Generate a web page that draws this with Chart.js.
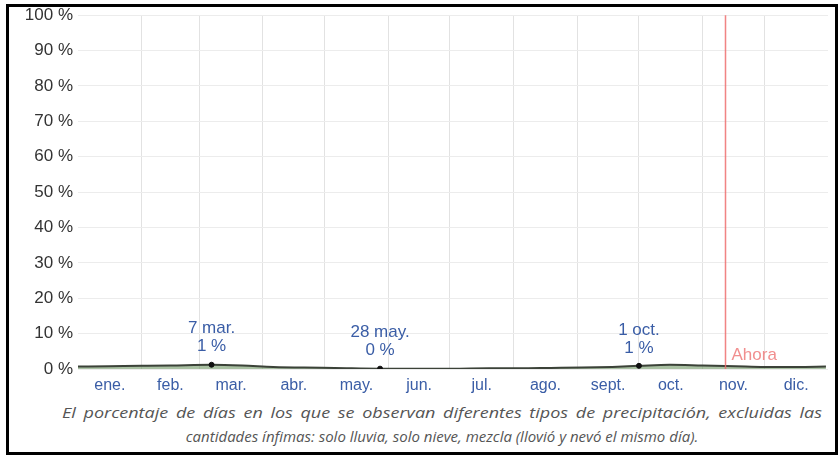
<!DOCTYPE html>
<html>
<head>
<meta charset="utf-8">
<script src="https://cdn.jsdelivr.net/npm/chart.js@4/dist/chart.umd.min.js"></script>
<style>
  html, body { margin: 0; padding: 0; background: #fff; }
  #frame { position: absolute; left: 6px; top: 4px; width: 826px; height: 445px; border: 3px solid #000; }
  #chart { position: absolute; left: 0; top: 0; }
  .cap {
    position: absolute; white-space: nowrap;
    font: italic 15px 'Open Sans', sans-serif; color: #555; line-height: 24px;
    transform-origin: 0 0;
  }
</style>
</head>
<body>
<div id="frame"></div>
<canvas id="chart" width="840" height="400"></canvas>
<span class="cap" id="cap1" style="top:400px">El porcentaje de días en los que se observan diferentes tipos de precipitación, excluidas las</span>
<span class="cap" id="cap2" style="top:424px">cantidades ínfimas: solo lluvia, solo nieve, mezcla (llovió y nevó el mismo día).</span>
<script>
// Day of year (0 = 1 Jan) and share of days with rain only, in percent
const days = [0, 15, 31, 45, 65, 80, 95, 110, 125, 147, 165, 182, 200, 215, 230, 245, 260, 273, 288, 304, 320, 334, 350, 364];
const rain = [0.7, 0.8, 0.9, 1.0, 1.2, 1.0, 0.6, 0.4, 0.3, 0.1, 0.1, 0.1, 0.2, 0.2, 0.3, 0.4, 0.6, 0.9, 1.2, 1.0, 0.8, 0.6, 0.6, 0.7];

// Month boundaries and month label positions (day of year)
const monthStarts = [31, 59, 90, 120, 151, 181, 212, 243, 273, 304, 334];
const monthMids = [15.5, 45, 74.5, 105, 135.5, 166, 196.5, 227.5, 258, 288.5, 319, 349.5];
const monthNames = ['ene.', 'feb.', 'mar.', 'abr.', 'may.', 'jun.', 'jul.', 'ago.', 'sept.', 'oct.', 'nov.', 'dic.'];

// Y ticks
const yTicks = [0, 10, 20, 30, 40, 50, 60, 70, 80, 90, 100];

// Highlighted days and their captions
const markDays = [65, 147, 273];
const markNames = ['7 mar.', '28 may.', '1 oct.'];

// Current day marker
const nowDay = 315;
const nowLabel = 'Ahora';

const series = days.map((d, i) => ({ x: d, y: rain[i] }));
const marks = markDays.map(d => ({ x: d, y: rain[days.indexOf(d)] }));

const blue = '#3a5da6';
const sans = "'Liberation Sans', Arial, sans-serif";

// Caption: first line justified across the box, last line centred
function layoutCaption() {
  const boxLeft = 62, boxRight = 822, mid = (boxLeft + boxRight) / 2, stretch = 1.2;
  const c1 = document.getElementById('cap1');
  const c2 = document.getElementById('cap2');
  c1.style.transform = 'none';
  c1.style.wordSpacing = '0px';
  const w1 = c1.getBoundingClientRect().width;
  const gaps = c1.textContent.split(' ').length - 1;
  c1.style.wordSpacing = Math.max(0, ((boxRight - boxLeft) / stretch - w1) / gaps) + 'px';
  c1.style.left = boxLeft + 'px';
  c1.style.transform = 'scaleX(' + stretch + ')';
  const w2 = c2.getBoundingClientRect().width;
  c2.style.left = (mid - w2 / 2) + 'px';
}
layoutCaption();
if (document.fonts && document.fonts.ready) document.fonts.ready.then(layoutCaption);

const overlay = {
  id: 'overlay',
  afterDatasetsDraw(chart) {
    const { ctx, chartArea, scales } = chart;
    const x = scales.x, y = scales.y;
    ctx.save();
    // "now" line
    const nx = Math.round(x.getPixelForValue(nowDay)) + 0.5;
    ctx.strokeStyle = 'rgba(238,110,110,0.85)';
    ctx.lineWidth = 1.5;
    ctx.beginPath();
    ctx.moveTo(nx, chartArea.top);
    ctx.lineTo(nx, chartArea.bottom);
    ctx.stroke();
    ctx.fillStyle = 'rgba(240,130,130,0.9)';
    ctx.font = '17px ' + sans;
    ctx.textAlign = 'left';
    ctx.textBaseline = 'middle';
    ctx.fillText(nowLabel, nx + 6, chartArea.bottom - 14);

    // captions above highlighted days
    ctx.fillStyle = blue;
    ctx.textAlign = 'center';
    marks.forEach((m, i) => {
      const px = x.getPixelForValue(m.x);
      const py = y.getPixelForValue(m.y);
      ctx.fillText(Math.round(m.y) + ' %', px, py - 18);
      ctx.fillText(markNames[i], px, py - 36);
    });
    ctx.restore();
  }
};

new Chart(document.getElementById('chart'), {
  type: 'line',
  data: {
    datasets: [
      {
        data: marks,
        showLine: false,
        pointRadius: 2.5,
        pointBackgroundColor: '#111',
        pointBorderColor: '#111',
        order: 0
      },
      {
        data: series,
        borderColor: '#3b4238',
        borderWidth: 2,
        backgroundColor: 'rgba(112,150,100,0.6)',
        fill: 'origin',
        pointRadius: 0,
        cubicInterpolationMode: 'monotone',
        order: 1
      }
    ]
  },
  options: {
    responsive: false,
    animation: false,
    devicePixelRatio: 1,
    layout: { padding: { left: 0, right: 12, top: 14, bottom: 6 } },
    plugins: { legend: { display: false }, tooltip: { enabled: false } },
    scales: {
      x: {
        type: 'linear',
        min: 0,
        max: 365,
        afterBuildTicks: axis => {
          axis.ticks = monthStarts.concat(monthMids).sort((a, b) => a - b).map(v => ({ value: v }));
        },
        afterFit: axis => { axis.height = 25; },
        grid: {
          color: ctx => (ctx.tick && monthStarts.includes(ctx.tick.value)) ? '#e2e2e2' : 'rgba(0,0,0,0)',
          drawTicks: false
        },
        border: { display: false },
        ticks: {
          autoSkip: false,
          maxRotation: 0,
          padding: 7,
          color: blue,
          font: { family: sans, size: 16 },
          callback: v => {
            const i = monthMids.indexOf(v);
            return i >= 0 ? monthNames[i] : '';
          }
        }
      },
      y: {
        min: 0,
        max: 100,
        afterBuildTicks: axis => { axis.ticks = yTicks.map(v => ({ value: v })); },
        afterFit: axis => { axis.width = 78; },
        grid: { color: '#ececec', drawTicks: false },
        border: { display: false },
        ticks: {
          padding: 5,
          color: '#333',
          font: { family: sans, size: 17 },
          callback: v => v + ' %'
        }
      }
    }
  },
  plugins: [overlay]
});
</script>
</body>
</html>
